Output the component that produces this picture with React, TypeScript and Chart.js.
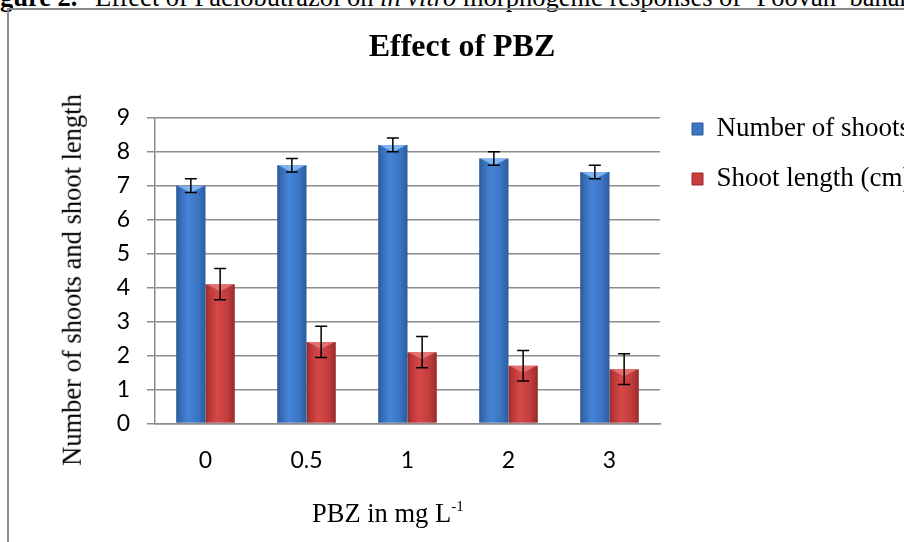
import React, { useEffect, useRef } from "react";
import { Chart, registerables } from "chart.js";

Chart.register(...registerables);

// ---- data ----
const categories = ["0", "0.5", "1", "2", "3"];
const shootNumbers = [7.0, 7.6, 8.2, 7.8, 7.4];
const shootNumberErrors = [0.2, 0.2, 0.2, 0.2, 0.2];
const shootLengths = [4.1, 2.4, 2.1, 1.7, 1.6];
const shootLengthErrors = [0.46, 0.46, 0.46, 0.45, 0.45];
const seriesNames = ["Number of shoots", "Shoot length (cm)"];
const chartTitle = "Effect of PBZ";
const yAxisTitle = "Number of shoots and shoot length";
const xAxisTitle = "PBZ in mg L";
const xAxisTitleSup = "-1";
const yMin = 0;
const yMax = 9;
const yStep = 1;

const SERIF = "'Liberation Serif', 'Times New Roman', serif";
const SANS = "Lato, Carlito, Calibri, sans-serif";

type Stop = [number, string];
const blueStops: Stop[] = [
  [0, "#2a5894"],
  [0.12, "#3569b2"],
  [0.4, "#4784d6"],
  [0.75, "#3a74c3"],
  [1, "#2b5b9b"],
];
const redStops: Stop[] = [
  [0, "#952a2a"],
  [0.12, "#b83636"],
  [0.4, "#d64848"],
  [0.75, "#c33c3c"],
  [1, "#962b2b"],
];
const capColors = ["rgba(140,190,245,0.85)", "rgba(235,120,120,0.85)"];

function barGradient(stops: Stop[], fallback: string) {
  return (c: any) => {
    const el = c.element;
    if (!el || !isFinite(el.x) || !isFinite(el.width) || !el.width) return fallback;
    const g = c.chart.ctx.createLinearGradient(el.x - el.width / 2, 0, el.x + el.width / 2, 0);
    stops.forEach(([o, col]) => g.addColorStop(o, col));
    return g;
  };
}

const bevelPlugin = {
  id: "bevel",
  afterDatasetsDraw(chart: any) {
    const { ctx } = chart;
    chart.data.datasets.forEach((_ds: any, di: number) => {
      const meta = chart.getDatasetMeta(di);
      meta.data.forEach((el: any) => {
        const half = el.width / 2;
        ctx.save();
        ctx.fillStyle = capColors[di];
        ctx.beginPath();
        ctx.moveTo(el.x - half + 1, el.y);
        ctx.lineTo(el.x + half - 1, el.y);
        ctx.lineTo(el.x, el.y + 7);
        ctx.closePath();
        ctx.fill();
        ctx.restore();
      });
    });
  },
};

const errorBarPlugin = {
  id: "errorBars",
  afterDatasetsDraw(chart: any) {
    const { ctx } = chart;
    const y = chart.scales.y;
    chart.data.datasets.forEach((ds: any, di: number) => {
      const meta = chart.getDatasetMeta(di);
      meta.data.forEach((el: any, i: number) => {
        const v = ds.data[i];
        const e = ds.errors[i];
        const top = y.getPixelForValue(v + e);
        const bot = y.getPixelForValue(v - e);
        const cap = 6;
        ctx.save();
        ctx.strokeStyle = "#000";
        ctx.lineWidth = 1.5;
        ctx.beginPath();
        ctx.moveTo(el.x, top);
        ctx.lineTo(el.x, bot);
        ctx.moveTo(el.x - cap, top);
        ctx.lineTo(el.x + cap, top);
        ctx.moveTo(el.x - cap, bot);
        ctx.lineTo(el.x + cap, bot);
        ctx.stroke();
        ctx.restore();
      });
    });
  },
};

const legendColors = [
  { fill: "#3d76c4", stroke: "#2a5894" },
  { fill: "#c93f3f", stroke: "#952a2a" },
];

export default function App() {
  const ref = useRef<HTMLCanvasElement>(null);

  useEffect(() => {
    const canvas = ref.current;
    if (!canvas) return;
    const chart = new Chart(canvas, {
      type: "bar",
      data: {
        labels: categories,
        datasets: [
          {
            label: seriesNames[0],
            data: shootNumbers,
            errors: shootNumberErrors,
            backgroundColor: barGradient(blueStops, "#3d76c4"),
            borderWidth: 0,
            categoryPercentage: 0.58,
            barPercentage: 1.0,
          } as any,
          {
            label: seriesNames[1],
            data: shootLengths,
            errors: shootLengthErrors,
            backgroundColor: barGradient(redStops, "#c93f3f"),
            borderWidth: 0,
            categoryPercentage: 0.58,
            barPercentage: 1.0,
          } as any,
        ],
      },
      options: {
        responsive: false,
        animation: false,
        layout: { padding: { left: 5, top: 10, right: 81, bottom: 12 } },
        plugins: {
          title: {
            display: true,
            text: chartTitle,
            color: "#000",
            font: { family: SERIF, size: 32, weight: "bold" },
            padding: { top: 18.8, bottom: 50.5 },
          },
          legend: {
            position: "right",
            align: "start",
            maxWidth: 250,
            title: { display: true, text: "", font: { size: 10 }, padding: { top: 70.5, bottom: 0 } },
            labels: {
              color: "#000",
              font: { family: SERIF, size: 27 },
              boxWidth: 11,
              boxHeight: 12,
              padding: 23,
              generateLabels: (ch: any) => {
                const base = Chart.defaults.plugins.legend.labels.generateLabels(ch);
                return base.map((l: any, i: number) => ({
                  ...l,
                  fillStyle: legendColors[i].fill,
                  strokeStyle: legendColors[i].stroke,
                  lineWidth: 1,
                }));
              },
            },
          },
          tooltip: { enabled: false },
        },
        scales: {
          x: {
            grid: { display: false },
            border: { display: true, color: "#8c8c8c", width: 1.5 },
            ticks: { color: "#000", font: { family: SANS, size: 23 }, padding: 15 },
            afterFit: (s: any) => {
              s.height = 106.5;
            },
          },
          y: {
            min: yMin,
            max: yMax,
            ticks: { stepSize: yStep, color: "#000", font: { family: SANS, size: 23 }, padding: 17 },
            grid: { color: "#8c8c8c", lineWidth: 1.5, tickLength: 8, drawTicks: true },
            border: { display: true, color: "#8c8c8c", width: 1.5 },
            afterFit: (s: any) => {
              s.width = 150;
            },
          },
          gap: {
            type: "linear",
            position: "right",
            display: true,
            grid: { display: false },
            border: { display: false },
            ticks: { display: false },
            afterFit: (s: any) => {
              s.width = 9;
            },
          },
        },
      },
      plugins: [bevelPlugin, errorBarPlugin],
    } as any);
    chart.update();
    return () => chart.destroy();
  }, []);

  return (
    <div
      style={{
        position: "fixed",
        left: 0,
        top: 0,
        width: 904,
        height: 542,
        overflow: "hidden",
        background: "#fff",
      }}
    >
      <div
        style={{
          position: "absolute",
          left: -23.6,
          top: -16,
          whiteSpace: "nowrap",
          fontFamily: SERIF,
          fontSize: 26.5,
          lineHeight: "26.5px",
          color: "#000",
        }}
      >
        <b style={{ display: "inline-block", width: 118.6 }}>Figure 2.</b>Effect of Paclobutrazol on <i>in vitro</i>{" "}
        morphogenic responses of ‘Poovan’ banana
      </div>
      <div style={{ position: "absolute", left: 0, top: 0, width: 1000, height: 542 }}>
        <canvas ref={ref} width={1000} height={542} style={{ display: "block", width: 1000, height: 542 }} />
      </div>
      <div
        style={{
          position: "absolute",
          left: 72,
          top: 280,
          transform: "translate(-50%, -50%) rotate(-90deg)",
          whiteSpace: "nowrap",
          fontFamily: SERIF,
          fontSize: 26.5,
          lineHeight: "26.5px",
          color: "#000",
        }}
      >
        {yAxisTitle}
      </div>
      <div
        style={{
          position: "absolute",
          left: 312,
          top: 500,
          whiteSpace: "nowrap",
          fontFamily: SERIF,
          fontSize: 26.5,
          lineHeight: "26.5px",
          color: "#000",
        }}
      >
        {xAxisTitle}
        <span style={{ fontSize: 15, position: "relative", top: -11 }}>{xAxisTitleSup}</span>
      </div>
      <div
        style={{
          position: "absolute",
          left: 7,
          top: 8,
          width: 1100,
          height: 700,
          borderLeft: "2px solid #8c8c8c",
          borderTop: "2px solid #8c8c8c",
          pointerEvents: "none",
        }}
      />
    </div>
  );
}
